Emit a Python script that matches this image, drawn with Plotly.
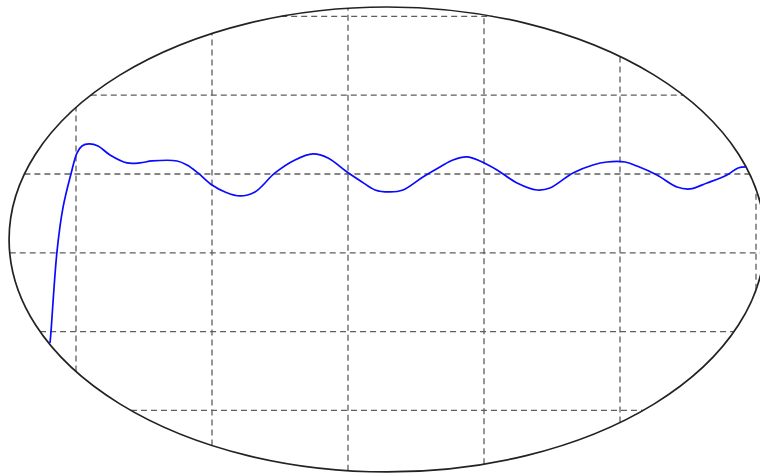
import numpy as np
import plotly.graph_objects as go

# Step response samples (time, amplitude)
t = [0.809, 0.816, 0.860, 0.904, 0.963, 1.007, 1.044, 1.096, 1.162, 1.250,
     1.375, 1.471, 1.559, 1.743, 1.816, 1.897, 2.000, 2.096, 2.206, 2.316,
     2.463, 2.610, 2.743, 2.853, 2.993, 3.103, 3.199, 3.309, 3.404, 3.551,
     3.676, 3.772, 3.875, 3.971, 4.096, 4.243, 4.390, 4.485, 4.654, 4.801,
     4.904, 5.037, 5.125, 5.272, 5.419, 5.515, 5.640, 5.787, 5.868, 5.926]
amp = [-1.144, -1.004, 0.011, 0.569, 1.000, 1.266, 1.355, 1.381, 1.355, 1.241,
       1.140, 1.140, 1.165, 1.165, 1.114, 1.013, 0.860, 0.772, 0.721, 0.772,
       1.013, 1.178, 1.254, 1.203, 1.025, 0.899, 0.797, 0.772, 0.797, 0.962,
       1.089, 1.178, 1.216, 1.165, 1.051, 0.886, 0.797, 0.822, 1.013, 1.114,
       1.152, 1.152, 1.101, 0.987, 0.835, 0.810, 0.886, 0.987, 1.076, 1.089]

# Grid positions
x_grid = [1, 2, 3, 4, 5, 6]
y_grid = [-2, -1, 0, 1, 2, 3]

# Elliptical frame (centre and semi-axes in data units)
cx, cy = 3.287, 0.169
ax_, by_ = 2.779, 2.949

x_range = [0.4412, 6.0294]
y_range = [-2.806, 3.207]

fig = go.Figure()

grid_style = dict(color="#5e5e5e", width=1.3, dash="6px,4px")
shapes = []
for gx in x_grid:
    r = 1 - ((gx - cx) / ax_) ** 2
    if r > 0:
        h = by_ * np.sqrt(r)
        shapes.append(dict(type="line", x0=gx, x1=gx, y0=cy - h, y1=cy + h,
                           line=grid_style, layer="below"))
for gy in y_grid:
    r = 1 - ((gy - cy) / by_) ** 2
    if r > 0:
        w = ax_ * np.sqrt(r)
        shapes.append(dict(type="line", x0=cx - w, x1=cx + w, y0=gy, y1=gy,
                           line=grid_style, layer="below"))

shapes.append(dict(type="circle", x0=cx - ax_, x1=cx + ax_,
                   y0=cy - by_, y1=cy + by_,
                   line=dict(color="#222222", width=1.7), layer="below"))

fig.add_trace(go.Scatter(
    x=t, y=amp, mode="lines",
    line=dict(color="#0a0aff", width=1.7, shape="spline", smoothing=1.0),
    hoverinfo="skip", showlegend=False,
))

fig.update_layout(
    width=760, height=474,
    margin=dict(l=0, r=0, t=0, b=0),
    paper_bgcolor="white", plot_bgcolor="white",
    shapes=shapes,
    xaxis=dict(range=x_range, visible=False, fixedrange=True),
    yaxis=dict(range=y_range, visible=False, fixedrange=True),
    showlegend=False,
)

fig.write_html("out.html", config={"displayModeBar": False})
